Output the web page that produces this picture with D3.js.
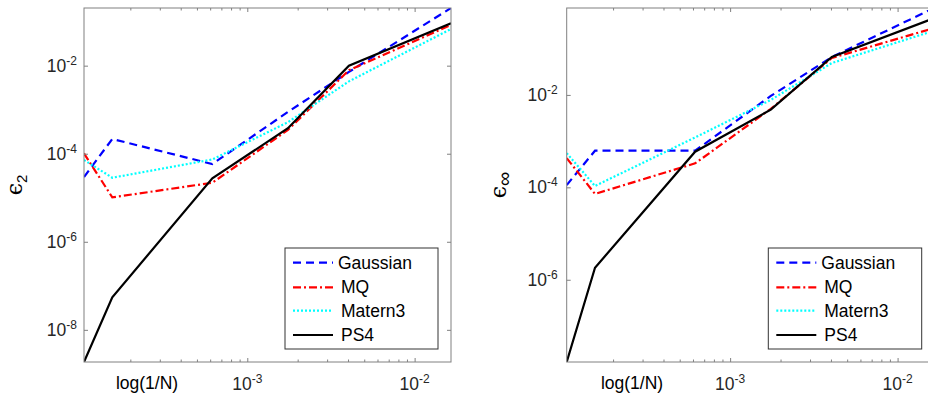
<!DOCTYPE html>
<html>
<head>
<meta charset="utf-8">
<script src="https://cdn.jsdelivr.net/npm/d3@7"></script>
<style>
  body { margin: 0; background: #fff; }
  svg { display: block; font-family: "Liberation Sans", Arial, sans-serif; }
</style>
</head>
<body>
<svg id="chart" width="928" height="399"></svg>
<script>
// 1/N values (same for both panels)
var invN = [1.057e-4, 1.56e-4, 6.18e-4, 1.75e-3, 4.05e-3, 1.65e-2];

// epsilon_2 errors
var gaussL2  = [2.95e-5, 2.16e-4, 5.83e-5, 8.9e-4, 7.2e-3, 0.204];
var mqL2     = [1.02e-4, 1.02e-5, 2.19e-5, 3.47e-4, 7.9e-3, 0.084];
var maternL2 = [7.2e-5, 2.85e-5, 7.4e-5, 5.2e-4, 4.4e-3, 0.068];
var ps4L2    = [1.86e-9, 5.5e-8, 2.75e-5, 3.8e-4, 1.0e-2, 0.092];

// epsilon_inf errors
var gaussInf  = [1.12e-4, 6.2e-4, 6.2e-4, 9.5e-3, 0.066, 0.76];
var mqInf     = [4.3e-4, 7.2e-5, 3.3e-4, 5.0e-3, 0.063, 0.279];
var maternInf = [5.5e-4, 1.07e-4, 1.2e-3, 7.8e-3, 0.049, 0.245];
var ps4Inf    = [1.66e-8, 1.82e-6, 5.9e-4, 4.8e-3, 0.066, 0.457];

var seriesNames = ["Gaussian", "MQ", "Matern3", "PS4"];
var xMajor = [1e-3, 1e-2];
var xMinor = [2e-4, 3e-4, 4e-4, 5e-4, 6e-4, 7e-4, 8e-4, 9e-4,
              2e-3, 3e-3, 4e-3, 5e-3, 6e-3, 7e-3, 8e-3, 9e-3];
var yTicksL2 = [1e-8, 1e-6, 1e-4, 1e-2];
var yTicksInf = [1e-6, 1e-4, 1e-2];

var styles = [
  { color: "#0000ff", dash: "8,5" },
  { color: "#ff0000", dash: "8,3,2,3" },
  { color: "#00ffff", dash: "2,2" },
  { color: "#000000", dash: null }
];

var svg = d3.select("#chart");
var axisColor = "#808080";
var textColor = "#262626";

function expLabel(sel, exp) {
  sel.append("tspan").text("10");
  sel.append("tspan").attr("font-size", 12).attr("dy", -7).text(exp);
}

function drawPanel(opts) {
  var x = d3.scaleLog().domain(d3.extent(invN)).range([opts.left, opts.right]);
  var all = [].concat.apply([], opts.series);
  var y = d3.scaleLog().domain(d3.extent(all)).range([opts.bottom, opts.top]);

  var g = svg.append("g");
  var clipId = "clip" + opts.id;
  g.append("clipPath").attr("id", clipId)
    .append("rect")
    .attr("x", opts.left).attr("y", opts.top)
    .attr("width", opts.right - opts.left).attr("height", opts.bottom - opts.top);

  // lines
  var line = d3.line().x(function (d) { return x(d[0]); }).y(function (d) { return y(d[1]); });
  opts.series.forEach(function (vals, i) {
    g.append("path")
      .datum(invN.map(function (n, k) { return [n, vals[k]]; }))
      .attr("clip-path", "url(#" + clipId + ")")
      .attr("fill", "none")
      .attr("stroke", styles[i].color)
      .attr("stroke-width", 2.2)
      .attr("stroke-dasharray", styles[i].dash)
      .attr("d", line);
  });

  // box
  g.append("rect")
    .attr("x", opts.left).attr("y", opts.top)
    .attr("width", opts.right - opts.left).attr("height", opts.bottom - opts.top)
    .attr("fill", "none").attr("stroke", axisColor).attr("stroke-width", 1);

  // ticks (inward, all four sides)
  function tickAxis(axis, tf) {
    var a = g.append("g").attr("transform", tf).call(axis);
    a.select(".domain").remove();
    a.selectAll("line").attr("stroke", axisColor);
    a.selectAll("text").remove();
  }
  tickAxis(d3.axisBottom(x).tickValues(xMajor).tickSize(-4), "translate(0," + opts.bottom + ")");
  tickAxis(d3.axisBottom(x).tickValues(xMinor).tickSize(-2.5), "translate(0," + opts.bottom + ")");
  tickAxis(d3.axisTop(x).tickValues(xMajor).tickSize(-4), "translate(0," + opts.top + ")");
  tickAxis(d3.axisTop(x).tickValues(xMinor).tickSize(-2.5), "translate(0," + opts.top + ")");
  tickAxis(d3.axisLeft(y).tickValues(opts.yTicks).tickSize(-4), "translate(" + opts.left + ",0)");
  tickAxis(d3.axisRight(y).tickValues(opts.yTicks).tickSize(-4), "translate(" + opts.right + ",0)");

  // x tick labels
  xMajor.forEach(function (v) {
    g.append("text")
      .attr("x", x(v)).attr("y", 390)
      .attr("text-anchor", "middle")
      .attr("font-size", 17.5).attr("fill", textColor)
      .call(expLabel, String(Math.round(Math.log10(v))));
  });

  // y tick labels
  opts.yTicks.forEach(function (v) {
    g.append("text")
      .attr("x", opts.left - opts.labelGap).attr("y", y(v) + 6)
      .attr("text-anchor", "end")
      .attr("font-size", 17.5).attr("fill", textColor)
      .call(expLabel, String(Math.round(Math.log10(v))));
  });

  // x label
  g.append("text")
    .attr("x", opts.xlabelX).attr("y", 389)
    .attr("text-anchor", "middle")
    .attr("font-size", 17.5).attr("fill", "#000")
    .text("log(1/N)");

  // y label
  var yl = g.append("text")
    .attr("transform", "translate(" + opts.ylabelX + ",185) rotate(-90)")
    .attr("text-anchor", "middle")
    .attr("font-size", 22).attr("fill", "#000");
  yl.append("tspan").attr("font-family", "DejaVu Serif, serif").text("\u03f5");
  yl.append("tspan").attr("font-size", opts.subSize).attr("dy", 5).text(opts.sub);

  // legend
  var lg = g.append("g");
  lg.append("rect")
    .attr("x", opts.legX).attr("y", 248)
    .attr("width", opts.legW).attr("height", 101)
    .attr("fill", "#fff").attr("stroke", "#333").attr("stroke-width", 1);
  var rows = [262.7, 287.3, 310.7, 335];
  seriesNames.forEach(function (name, i) {
    lg.append("line")
      .attr("x1", opts.legX + 8).attr("x2", opts.legX + 48)
      .attr("y1", rows[i]).attr("y2", rows[i])
      .attr("stroke", styles[i].color).attr("stroke-width", 2.2)
      .attr("stroke-dasharray", styles[i].dash);
    lg.append("text")
      .attr("x", opts.legX + (i === 0 ? 53 : 56)).attr("y", rows[i] + 6)
      .attr("font-size", 17.5).attr("fill", "#000")
      .text(name);
  });
}

drawPanel({
  id: 1, left: 84, right: 451, top: 8, bottom: 362,
  series: [gaussL2, mqL2, maternL2, ps4L2],
  yTicks: yTicksL2, labelGap: 7, xlabelX: 147, ylabelX: 22, sub: "2", subSize: 15,
  legX: 285, legW: 153
});

drawPanel({
  id: 2, left: 566.7, right: 934, top: 8, bottom: 362,
  series: [gaussInf, mqInf, maternInf, ps4Inf],
  yTicks: yTicksInf, labelGap: 9, xlabelX: 632, ylabelX: 506, sub: "\u221e", subSize: 20,
  legX: 768.3, legW: 153.4
});
</script>
</body>
</html>
